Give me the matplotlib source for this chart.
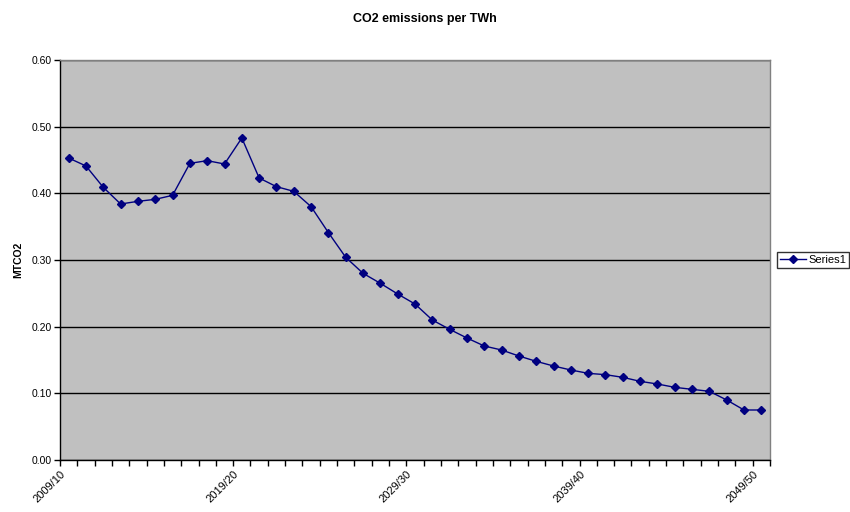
import matplotlib
matplotlib.use("Agg")
import matplotlib.pyplot as plt
import matplotlib.transforms as mtransforms
from matplotlib.ticker import FixedLocator

plt.rcParams["font.family"] = ["Liberation Sans", "DejaVu Sans"]

# financial years 2009/10 .. 2049/50
years = [f"{y}/{str(y + 1)[-2:]}" for y in range(2009, 2050)]
emissions = [
    0.453, 0.441, 0.409, 0.384, 0.388, 0.391, 0.397, 0.445, 0.449, 0.444,
    0.483, 0.423, 0.410, 0.403, 0.380, 0.341, 0.304, 0.280, 0.265, 0.249,
    0.234, 0.210, 0.196, 0.183, 0.171, 0.165, 0.156, 0.148, 0.141, 0.135,
    0.130, 0.128, 0.124, 0.118, 0.114, 0.109, 0.106, 0.103, 0.090, 0.075,
    0.075,
]
y_ticks = [0.0, 0.1, 0.2, 0.3, 0.4, 0.5, 0.6]

fig = plt.figure(figsize=(8.5, 5.12), dpi=100)
ax = fig.add_axes([60 / 850, 52 / 512, 710 / 850, 400 / 512])
ax.set_facecolor("#C0C0C0")

x = list(range(len(years)))
ax.plot(x, emissions, color="#000080", linewidth=1, marker="D",
        markersize=3.8, label="Series1")

ax.set_ylim(0, 0.6)
ax.set_yticks(y_ticks)
ax.set_yticklabels([f"{v:.2f}" for v in y_ticks], fontsize=7.5)
ax.yaxis.grid(True, color="black", linewidth=1)
ax.set_axisbelow(True)
ax.tick_params(axis="y", direction="out", length=4, width=1, pad=2)

ax.set_xlim(-0.5, len(years) - 0.5)
label_pos = x[::10]
ax.set_xticks(label_pos)
ax.set_xticklabels([years[i] for i in label_pos], rotation=45, ha="right",
                   va="center", rotation_mode="anchor", fontsize=8)
ax.tick_params(axis="x", which="major", length=0, pad=9)
shift = mtransforms.ScaledTranslation(-3.5 / 72, 0, fig.dpi_scale_trans)
for lbl in ax.get_xticklabels():
    lbl.set_transform(lbl.get_transform() + shift)
ax.xaxis.set_minor_locator(FixedLocator([i - 0.5 for i in range(len(years) + 1)]))
ax.tick_params(axis="x", which="minor", direction="out", length=4, width=1)

for side in ["left", "bottom"]:
    ax.spines[side].set_color("black")
    ax.spines[side].set_linewidth(1)
for side in ["top", "right"]:
    ax.spines[side].set_color("#808080")
    ax.spines[side].set_linewidth(1)

ax.set_ylabel("MTCO2", fontsize=7.5, fontweight="bold", labelpad=6)
fig.suptitle("CO2 emissions per TWh", fontsize=9, fontweight="bold",
             x=0.5, y=0.975)

leg = ax.legend(loc="center left", bbox_to_anchor=(1.010, 0.5), fontsize=8,
                frameon=True, fancybox=False, edgecolor="black",
                borderpad=0.3, handlelength=2.3, handletextpad=0.2,
                borderaxespad=0)
leg.get_frame().set_linewidth(1)

fig.savefig("out.png", dpi=100)
plt.close(fig)
